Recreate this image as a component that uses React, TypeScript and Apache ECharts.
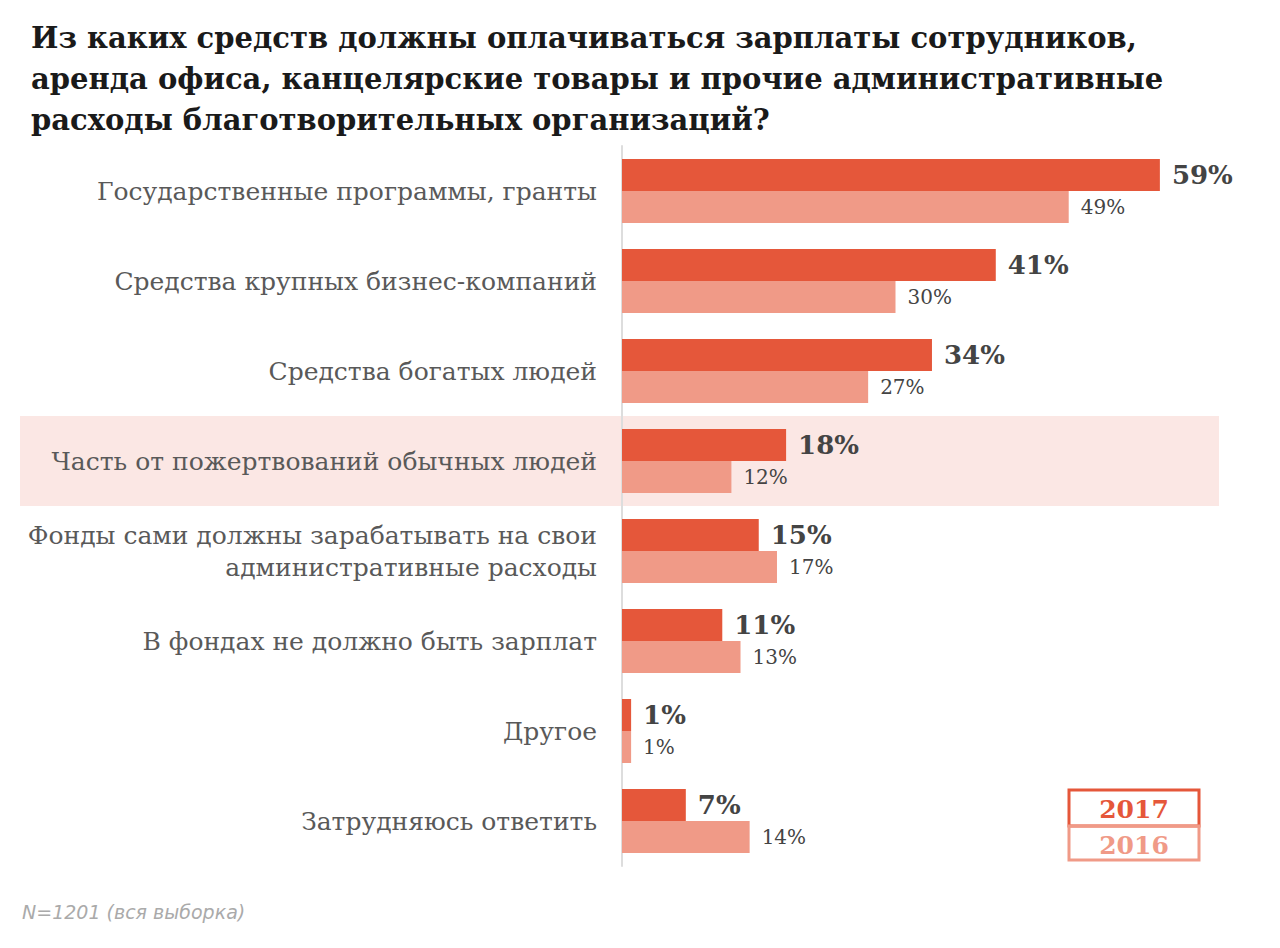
import React, { useEffect, useRef } from "react";
import * as echarts from "echarts";

const categories = [
  "Государственные программы, гранты",
  "Средства крупных бизнес-компаний",
  "Средства богатых людей",
  "Часть от пожертвований обычных людей",
  "Фонды сами должны зарабатывать на свои\nадминистративные расходы",
  "В фондах не должно быть зарплат",
  "Другое",
  "Затрудняюсь ответить",
];
const values2017 = [59, 41, 34, 18, 15, 11, 1, 7];
const values2016 = [49, 30, 27, 12, 17, 13, 1, 14];
const seriesNames = ["2017", "2016"];
const titleText =
  "Из каких средств должны оплачиваться зарплаты сотрудников,\nаренда офиса, канцелярские товары и прочие административные\nрасходы благотворительных организаций?";
const footnote = "N=1201 (вся выборка)";

const C17 = "#e5573a";
const C16 = "#f09a87";
const SERIF = "'DejaVu Serif', serif";

export default function App() {
  const ref = useRef<HTMLDivElement>(null);
  useEffect(() => {
    if (!ref.current) return;
    const chart = echarts.init(ref.current, undefined, { renderer: "svg" });
    chart.setOption({
      animation: false,
      backgroundColor: "#ffffff",
      title: {
        text: titleText,
        left: 26,
        top: 12,
        textStyle: {
          fontFamily: SERIF,
          fontWeight: "bold",
          fontSize: 29,
          lineHeight: 41,
          color: "#1a1a1a",
        },
      },
      grid: { left: 622, top: 146, width: 547, height: 720, containLabel: false },
      xAxis: {
        type: "value",
        min: 0,
        max: 60,
        show: false,
      },
      yAxis: {
        type: "category",
        data: categories,
        inverse: true,
        axisLine: { show: true, lineStyle: { color: "#dddddd", width: 2 } },
        axisTick: { show: false },
        axisLabel: {
          margin: 25,
          fontFamily: SERIF,
          fontSize: 25,
          lineHeight: 32,
          color: "#595959",
          align: "right",
        },
      },
      graphic: [
        {
          type: "rect",
          z: -10,
          shape: { x: 20, y: 416, width: 1199, height: 90 },
          style: { fill: "#fbe7e4" },
        },
        {
          type: "rect",
          shape: { x: 1069, y: 790, width: 130, height: 36 },
          style: { fill: "none", stroke: C17, lineWidth: 3 },
        },
        {
          type: "rect",
          shape: { x: 1069, y: 826, width: 130, height: 34 },
          style: { fill: "none", stroke: C16, lineWidth: 3 },
        },
        {
          type: "text",
          x: 1134,
          y: 809,
          style: {
            text: seriesNames[0],
            fill: C17,
            font: "bold 25px " + SERIF,
            align: "center",
            verticalAlign: "middle",
          },
        },
        {
          type: "text",
          x: 1134,
          y: 845,
          style: {
            text: seriesNames[1],
            fill: C16,
            font: "bold 25px " + SERIF,
            align: "center",
            verticalAlign: "middle",
          },
        },
        {
          type: "text",
          x: 22,
          y: 912,
          style: {
            text: footnote,
            fill: "#aaaaaa",
            font: "italic 19px 'DejaVu Sans', sans-serif",
            verticalAlign: "middle",
          },
        },
      ],
      series: [
        {
          name: seriesNames[0],
          type: "bar",
          data: values2017,
          barWidth: 32,
          barGap: "0%",
          itemStyle: { color: C17 },
          label: {
            show: true,
            position: "right",
            distance: 12,
            formatter: "{c}%",
            fontFamily: SERIF,
            fontWeight: "bold",
            fontSize: 26,
            color: "#444444",
          },
        },
        {
          name: seriesNames[1],
          type: "bar",
          data: values2016,
          barWidth: 32,
          itemStyle: { color: C16 },
          label: {
            show: true,
            position: "right",
            distance: 12,
            formatter: "{c}%",
            fontFamily: SERIF,
            fontSize: 20,
            color: "#444444",
          },
        },
      ],
    });
    return () => chart.dispose();
  }, []);
  return (
    <div
      ref={ref}
      style={{ position: "fixed", left: 0, top: 0, width: 1280, height: 948 }}
    />
  );
}
